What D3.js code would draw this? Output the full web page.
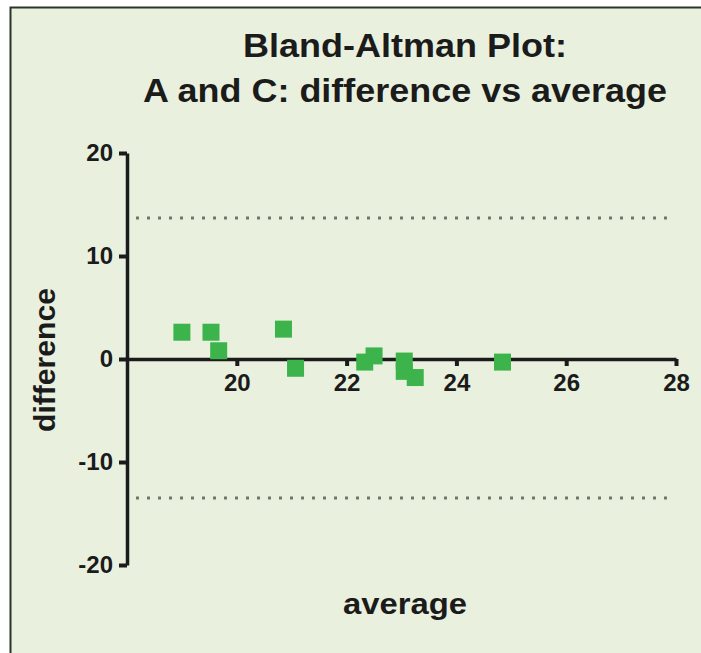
<!DOCTYPE html>
<html>
<head>
<meta charset="utf-8">
<script src="https://cdn.jsdelivr.net/npm/d3@7"></script>
<style>
  html, body { margin: 0; padding: 0; background: #fff; overflow: hidden; }
  svg { display: block; }
</style>
</head>
<body>
<svg id="chart" width="701" height="653"></svg>
<script>
// data
const averages    = [19.0, 19.53, 19.67, 20.85, 21.07, 22.33, 22.5, 23.05, 23.05, 23.25, 24.84];
const differences = [2.6, 2.6, 0.8, 2.9, -0.9, -0.3, 0.3, -0.2, -1.2, -1.8, -0.3];
const limitsOfAgreement = [13.7, -13.5];
const xTicks = [20, 22, 24, 26, 28];
const yTicks = [-20, -10, 0, 10, 20];
const titleLines = ['Bland-Altman Plot:', 'A and C: difference vs average'];

const width = 701;
const height = 653;
const margin = { top: 153, right: 25, bottom: 88, left: 127 };
const plotW = width - margin.left - margin.right;   // 549
const plotH = height - margin.top - margin.bottom;  // 412

const ink = '#1b1b1b';
const fontFamily = '"Liberation Sans", Arial, sans-serif';

const svg = d3.select('#chart');

// panel background with a dark edge on top and left
svg.append('rect')
    .attr('x', 10).attr('y', 7)
    .attr('width', width - 10).attr('height', height - 7)
    .attr('fill', '#e9f1de');
svg.append('path')
    .attr('d', `M10.5,${height} V7.5 H${width}`)
    .attr('fill', 'none')
    .attr('stroke', '#2b3628')
    .attr('stroke-width', 2);

const x = d3.scaleLinear().domain([18, 28]).range([0, plotW]);
const y = d3.scaleLinear().domain([-20, 20]).range([plotH, 0]);

const g = svg.append('g')
    .attr('transform', `translate(${margin.left},${margin.top})`);

// limits of agreement
g.selectAll('.loa')
    .data(limitsOfAgreement)
    .enter()
    .append('line')
    .attr('class', 'loa')
    .attr('x1', 9).attr('x2', 543)
    .attr('y1', d => y(d)).attr('y2', d => y(d))
    .attr('stroke', '#6f776a')
    .attr('stroke-width', 3)
    .attr('stroke-dasharray', '3,8');

const styleAxis = (sel) => {
    sel.select('.domain').attr('stroke', ink).attr('stroke-width', 3.5);
    sel.selectAll('.tick line').attr('stroke', ink).attr('stroke-width', 4);
    sel.selectAll('.tick text')
        .attr('fill', ink)
        .attr('font-family', fontFamily)
        .attr('font-weight', 'bold')
        .attr('font-size', 24);
};

// y axis (plain hyphen for negatives, as in the original)
const yAxis = d3.axisLeft(y).tickValues(yTicks).tickFormat(d => String(d))
    .tickSizeInner(8).tickSizeOuter(0).tickPadding(6);
g.append('g').call(yAxis).call(styleAxis);

// x axis sits on the zero line
const xAxis = d3.axisBottom(x).tickValues(xTicks).tickFormat(d => String(d))
    .tickSizeInner(7).tickSizeOuter(0).tickPadding(8);
g.append('g').attr('transform', `translate(0,${y(0)})`).call(xAxis).call(styleAxis);

// points
const side = 17;
g.selectAll('.pt')
    .data(averages.map((a, i) => ({ a: a, d: differences[i] })))
    .enter()
    .append('rect')
    .attr('class', 'pt')
    .attr('x', p => x(p.a) - side / 2)
    .attr('y', p => y(p.d) - side / 2)
    .attr('width', side)
    .attr('height', side)
    .attr('fill', '#3db34b');

// title
const titleWidths = [324, 524];
svg.selectAll('.title')
    .data(titleLines)
    .enter()
    .append('text')
    .attr('class', 'title')
    .attr('x', 405)
    .attr('y', (d, i) => 57 + i * 45)
    .attr('text-anchor', 'middle')
    .attr('font-family', fontFamily)
    .attr('font-weight', 'bold')
    .attr('font-size', 33)
    .attr('textLength', (d, i) => titleWidths[i])
    .attr('lengthAdjust', 'spacingAndGlyphs')
    .attr('fill', ink)
    .text(d => d);

// axis titles
svg.append('text')
    .attr('transform', 'translate(55,360) rotate(-90)')
    .attr('text-anchor', 'middle')
    .attr('font-family', fontFamily)
    .attr('font-weight', 'bold')
    .attr('font-size', 30)
    .attr('textLength', 144)
    .attr('lengthAdjust', 'spacingAndGlyphs')
    .attr('fill', ink)
    .text('difference');

svg.append('text')
    .attr('x', 405)
    .attr('y', 614)
    .attr('text-anchor', 'middle')
    .attr('font-family', fontFamily)
    .attr('font-weight', 'bold')
    .attr('font-size', 30)
    .attr('textLength', 124)
    .attr('lengthAdjust', 'spacingAndGlyphs')
    .attr('fill', ink)
    .text('average');
</script>
</body>
</html>
